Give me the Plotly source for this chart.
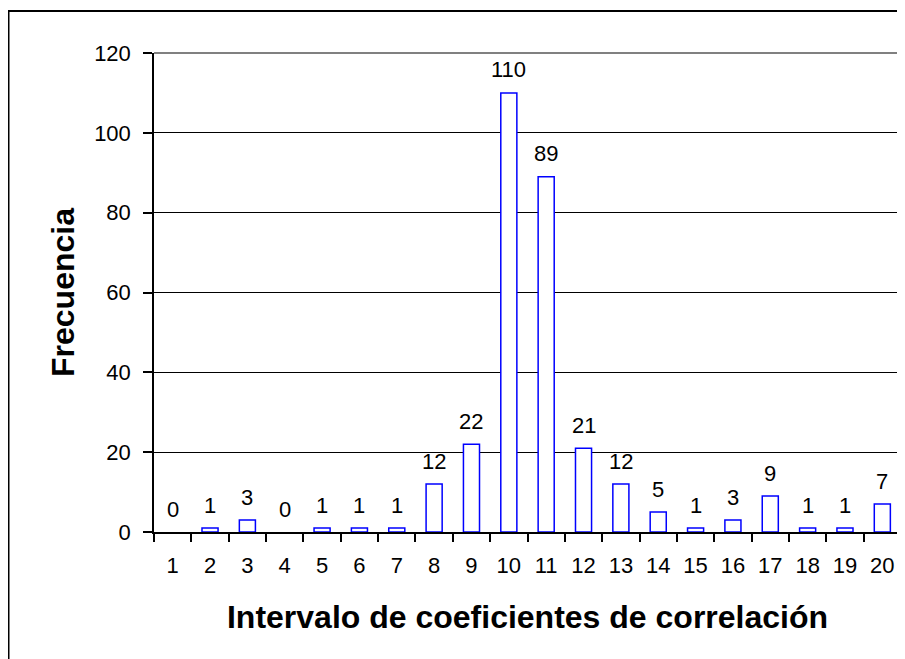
import plotly.graph_objects as go

categories = [str(i) for i in range(1, 21)]
frequencies = [0, 1, 3, 0, 1, 1, 1, 12, 22, 110, 89, 21, 12, 5, 1, 3, 9, 1, 1, 7]
y_ticks = [0, 20, 40, 60, 80, 100, 120]

FONT = "Liberation Sans, Arial, sans-serif"

fig = go.Figure()
fig.add_trace(go.Bar(
    x=categories, y=frequencies,
    marker=dict(color="white",
                line=dict(color="#0000FF", width=[0 if v == 0 else 1.5 for v in frequencies])),
    showlegend=False, hoverinfo="x+y",
))

# category axis: annotation x given as category index
annotations = [
    dict(x=i, y=v, xref="x", yref="y", text=str(v), showarrow=False,
         yanchor="middle", yshift=23, font=dict(family=FONT, size=22, color="black"))
    for i, v in enumerate(frequencies)
]

# figure sits 8px inside the page (body margin)
W, H = 897, 651
L, R, T, B = 146, 893, 45, 524
pw, ph = R - L, B - T

def px(xp):
    return (xp - L) / pw

def py(yp):
    return (B - yp) / ph

shapes = [
    dict(type="rect", xref="paper", yref="paper", x0=px(0.5), x1=px(920), y0=py(680), y1=py(3),
         line=dict(color="black", width=2), fillcolor="rgba(0,0,0,0)", layer="above"),
    dict(type="line", xref="paper", yref="paper", x0=0, x1=1, y0=1, y1=1,
         line=dict(color="#808080", width=2), layer="above"),
    dict(type="line", xref="paper", yref="paper", x0=1, x1=1, y0=0, y1=1,
         line=dict(color="#808080", width=2), layer="above"),
]

fig.update_layout(
    width=W, height=H,
    margin=dict(l=L, r=W - R, t=T, b=H - B, pad=0),
    paper_bgcolor="white", plot_bgcolor="white",
    bargap=0.57,
    font=dict(family=FONT, color="black"),
    annotations=annotations,
    shapes=shapes,
    xaxis=dict(
        type="category", tickson="boundaries", ticks="outside", ticklen=8, tickwidth=1.5,
        tickcolor="black", showline=True, linecolor="black", linewidth=1.5,
        showgrid=False, tickfont=dict(size=22, family=FONT), ticklabelstandoff=13,
        title=dict(text="<b>Intervalo de coeficientes de correlación</b>",
                   font=dict(size=32, family=FONT), standoff=28),
        automargin=False,
    ),
    yaxis=dict(
        range=[0, 120], tickvals=y_ticks, ticks="outside", ticklen=9, tickwidth=1.5,
        tickcolor="black", showline=True, linecolor="black", linewidth=1.5,
        showgrid=True, gridcolor="black", gridwidth=1, zeroline=False,
        tickfont=dict(size=22, family=FONT), ticklabelstandoff=8,
        title=dict(text="<b>Frecuencia</b>", font=dict(size=32, family=FONT), standoff=10),
        automargin=False,
    ),
)

fig.write_html("out.html")
